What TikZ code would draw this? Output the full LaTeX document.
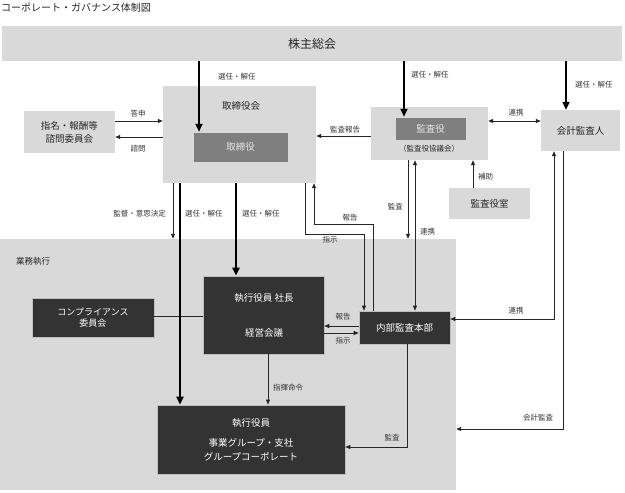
\documentclass[tikz,border=0pt]{standalone}
\usepackage{fontspec}
\setmainfont{Noto Sans CJK JP}
\usetikzlibrary{arrows.meta,calc}
\definecolor{lg}{HTML}{D9D9D9}
\definecolor{mg}{HTML}{7F7F7F}
\definecolor{dg}{HTML}{333333}
\definecolor{ln}{HTML}{262626}
\begin{document}
\begin{tikzpicture}[x=1pt,y=-1pt,
 box/.style={fill=lg, draw=none, inner sep=0, align=center, text=black!85, font=\fontsize{9.5}{12}\selectfont},
 midbox/.style={fill=mg, draw=white!85!black, line width=0.5pt, inner sep=0, align=center, text=white!90!black, font=\fontsize{9.5}{12}\selectfont},
 darkbox/.style={fill=dg, draw=white!75!black, line width=0.6pt, inner sep=0, align=center, text=white},
 wtxt/.style={inner sep=0, text=white, font=\fontsize{9.5}{12}\selectfont, align=center},
 txt/.style={inner sep=0, text=black!85, font=\fontsize{9.5}{12}\selectfont, align=center},
 lbl/.style={font=\fontsize{7.5}{9}\selectfont, text=black!80, inner sep=0},
 conn/.style={draw=ln, line width=0.8pt},
 arr/.style={conn, -{Triangle[length=5pt,width=4pt]}},
 darr/.style={conn, {Triangle[length=5pt,width=4pt]}-{Triangle[length=5pt,width=4pt]}},
 thk/.style={draw=black, line width=2.6pt, -{Triangle[length=8pt,width=7pt]}},
]
\useasboundingbox (0,0) rectangle (625,493);
\fill[white] (0,0) rectangle (625,493);

\node[anchor=west, inner sep=0, font=\fontsize{10}{12}\selectfont, text=black!85] (title) at (1,8) {コーポレート・ガバナンス体制図};

% regions and boxes
\node[box, minimum width=620pt, minimum height=35pt, font=\fontsize{12}{14}\selectfont] (kabu) at (312,43.5) {株主総会};
\node[box, minimum width=456pt, minimum height=251pt] (gyomu) at (228,364.5) {};
\node[txt, anchor=west, font=\fontsize{8.5}{10}\selectfont] (gyomuLbl) at (16,261) {業務執行};

\node[box, minimum width=153pt, minimum height=97pt] (torikai) at (239.5,134.5) {};
\node[txt] (torikaiLbl) at (241,106) {取締役会};
\node[midbox, minimum width=95pt, minimum height=30pt] (tori) at (240.5,147) {取締役};

\node[box, minimum width=91pt, minimum height=42pt, font=\fontsize{9.5}{13}\selectfont] (shimei) at (69.5,132) {指名・報酬等\\諮問委員会};

\node[box, minimum width=117pt, minimum height=53pt] (kansa) at (429.5,133.5) {};
\node[midbox, minimum width=71pt, minimum height=23pt] (kansain) at (430.5,128.5) {監査役};
\node[txt, font=\fontsize{7.5}{9}\selectfont] (kansaLbl) at (429,149) {（監査役協議会）};

\node[box, minimum width=79pt, minimum height=41pt] (kaikei) at (580.5,130.5) {会計監査人};
\node[box, minimum width=81pt, minimum height=31pt] (shitsu) at (489.5,203.5) {監査役室};

\node[darkbox, minimum width=122pt, minimum height=39pt, font=\fontsize{9}{11}\selectfont] (comp) at (93,317.5) {コンプライアンス\\委員会};
\node[darkbox, minimum width=121pt, minimum height=78pt] (shacho) at (263.5,315) {};
\node[wtxt] (shachoA) at (264,298) {執行役員 社長};
\node[wtxt] (shachoB) at (264,333) {経営会議};
\node[darkbox, minimum width=91pt, minimum height=33pt, font=\fontsize{9.5}{12}\selectfont] (naibu) at (404.5,327.5) {内部監査本部};
\node[darkbox, minimum width=188pt, minimum height=69pt] (shikko) at (251,439.5) {};
\node[wtxt] (shikkoA) at (251,423) {執行役員};
\node[wtxt, font=\fontsize{9.5}{14}\selectfont] (shikkoB) at (251,450) {事業グループ・支社\\グループコーポレート};

% helper coordinates
\coordinate (x173) at (173,0);
\coordinate (x180) at (180,0);
\coordinate (x199) at (199,0);
\coordinate (x236) at (236,0);
\coordinate (x268) at (268,0);
\coordinate (x404) at (404,0);
\coordinate (x408) at (408,0);
\coordinate (x415) at (415,0);
\coordinate (x473) at (473,0);
\coordinate (x566) at (566,0);
\coordinate (y121) at (0,121);
\coordinate (y136) at (0,136);
\coordinate (y137) at (0,137);
\coordinate (y316) at (0,316);
\coordinate (y326) at (0,326);
\coordinate (y333) at (0,333);
\coordinate (l1) at (305,234);
\coordinate (l2) at (364,234);
\coordinate (m1) at (373,224);
\coordinate (m2) at (314,224);
\coordinate (p1) at (554,319);
\coordinate (q1) at (563,429);
\coordinate (r1) at (407,447);

% thin connectors
\draw[arr] (shimei.east |- y121) -- (torikai.west |- y121);
\node[lbl] (l_toushin) at (138,114) {答申};
\draw[arr] (torikai.west |- y137) -- (shimei.east |- y137);
\node[lbl] (l_shimon) at (138,149) {諮問};
\draw[arr] (kansa.west |- y136) -- (torikai.east |- y136);
\node[lbl] (l_kansahoukoku) at (345,130) {監査報告};
\draw[darr] (kansa.east |- y121) -- (kaikei.west |- y121);
\node[lbl] (l_renkei1) at (516,113) {連携};
\draw[arr] (shitsu.north -| x473) -- (kansa.south -| x473);
\node[lbl, anchor=west] (l_hojo) at (478,177) {補助};

\draw[arr] (torikai.south -| x173) -- (gyomu.north -| x173);
\node[lbl, anchor=east] (l_kantoku) at (166,214) {監督・意思決定};
\node[lbl, anchor=west] (l_sen2) at (185,214) {選任・解任};
\node[lbl, anchor=west] (l_sen3) at (242,214) {選任・解任};

\draw[arr] (torikai.south -| l1) -- (l1) -- (l2) -- (naibu.north -| l2);
\node[lbl] (l_shiji1) at (330,240) {指示};
\draw[arr] (naibu.north -| m1) -- (m1) -- (m2) -- (torikai.south -| m2);
\node[lbl] (l_houkoku1) at (350,218) {報告};

\draw[arr] (kansa.south -| x408) -- (gyomu.north -| x408);
\node[lbl, anchor=east] (l_kansa1) at (403,207) {監査};
\draw[darr] (kansa.south -| x415) -- (naibu.north -| x415);
\node[lbl, anchor=west] (l_renkei2) at (420,232) {連携};

\draw[darr] (kaikei.south -| p1) -- (p1) -- (naibu.east |- p1);
\node[lbl] (l_renkei3) at (516,311) {連携};
\draw[arr] (kaikei.south -| q1) -- (q1) -- (gyomu.east |- q1);
\node[lbl] (l_kaikeikansa) at (538,418) {会計監査};
\draw[arr] (naibu.south -| r1) -- (r1) -- (shikko.east |- r1);
\node[lbl] (l_kansa2) at (392,438) {監査};

\draw[arr] (shacho.south -| x268) -- (shikko.north -| x268);
\node[lbl, anchor=west] (l_shiki) at (273,388) {指揮命令};

\draw[arr] (naibu.west |- y326) -- (shacho.east |- y326);
\node[lbl] (l_houkoku2) at (343,317) {報告};
\draw[arr] (shacho.east |- y333) -- (naibu.west |- y333);
\node[lbl] (l_shiji2) at (343,341) {指示};

\draw[conn] (comp.east |- y316) -- (shacho.west |- y316);

% thick connectors
\draw[thk] (kabu.south -| x199) -- (tori.north -| x199);
\node[lbl, anchor=west] (l_sen1) at (218,77) {選任・解任};
\draw[thk] (kabu.south -| x404) -- (kansain.north -| x404);
\node[lbl, anchor=west] (l_sen4) at (411,75) {選任・解任};
\draw[thk] (kabu.south -| x566) -- (kaikei.north -| x566);
\node[lbl, anchor=west] (l_sen5) at (575,85) {選任・解任};
\draw[thk] (torikai.south -| x180) -- (shikko.north -| x180);
\draw[thk] (torikai.south -| x236) -- (shacho.north -| x236);
\end{tikzpicture}
\end{document}
